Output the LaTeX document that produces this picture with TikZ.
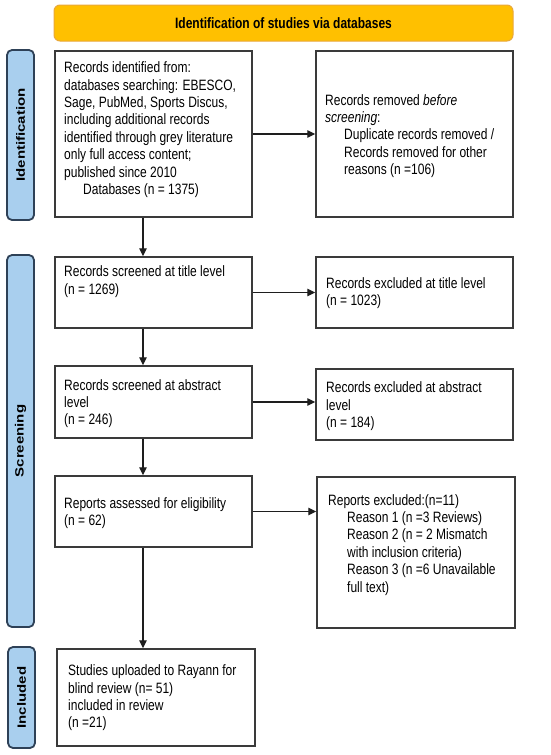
\documentclass[tikz,border=0pt]{standalone}
\usepackage{fontspec}
\setmainfont[FakeStretch=0.8]{Liberation Sans}
\newfontfamily\labelfont{Liberation Sans}
\usetikzlibrary{arrows.meta}
\definecolor{gold}{HTML}{FFC000}
\definecolor{goldedge}{HTML}{E9A83A}
\definecolor{sidefill}{HTML}{A9CFEE}
\definecolor{sideedge}{HTML}{2E4157}
\definecolor{boxedge}{HTML}{3A3A3A}
\definecolor{arrowcol}{HTML}{1E1E1E}
\newcommand{\txtlines}[1]{\begin{tabular}[t]{@{}l@{}}#1\end{tabular}}
\newcommand{\ind}{\hspace*{19pt}}
\tikzset{
  stagebox/.style={draw=boxedge, line width=1.4pt, fill=white, rectangle, inner sep=0pt, minimum width=197pt},
  txt/.style={anchor=base west, inner sep=0pt, font=\fontsize{15}{17.4}\selectfont},
  sidebar/.style={draw=sideedge, fill=sidefill, line width=1.8pt, rounded corners=5pt, minimum width=27pt, inner sep=0pt},
  sidelabel/.style={rotate=90, inner sep=0pt, font=\labelfont\bfseries\fontsize{15}{18}\selectfont},
  arr/.style={draw=arrowcol, line width=1.3pt, -{Triangle[length=8pt,width=7.5pt]}}
}
\begin{document}
\begin{tikzpicture}[x=1pt,y=-1pt]
\useasboundingbox[fill=white] (0,0) rectangle (550,755);

% header
\node[draw=goldedge, fill=gold, line width=1pt, rounded corners=6pt, minimum width=459pt, minimum height=36pt, inner sep=0pt,
      font=\bfseries\fontsize{15}{18}\selectfont] (head) at (283.5,23) {Identification of studies via databases};

% side bars
\node[sidebar, minimum height=170pt] (sb1) at (20.5,135) {};
\node[sidelabel] (sl1) at (sb1.center) {\scalebox{1}[0.8]{Identification}};
\node[sidebar, minimum height=372pt] (sb2) at (20.5,441) {};
\node[sidelabel] (sl2) at (sb2.center) {\scalebox{1}[0.8]{Screening}};
\node[sidebar, minimum height=101pt] (sb3) at (21.5,697.5) {};
\node[sidelabel] (sl3) at (sb3.center) {\scalebox{1}[0.8]{Included}};

% boxes
\node[stagebox, minimum height=166pt] (b1) at (153.5,134) {};
\node[stagebox, minimum height=166pt] (r1) at (414.5,134) {};
\node[stagebox, minimum height=71pt] (b2) at (153.5,292.5) {};
\node[stagebox, minimum height=71pt] (r2) at (414.5,292.5) {};
\node[stagebox, minimum height=72pt] (b3) at (153.5,402) {};
\node[stagebox, minimum height=71pt] (r3) at (414.5,404.5) {};
\node[stagebox, minimum height=71pt] (b4) at (153.5,511.5) {};
\node[stagebox, minimum height=151pt, minimum width=198pt] (r4) at (416,552.5) {};
\node[stagebox, minimum height=97pt, minimum width=198pt] (b5) at (156,697.5) {};

% texts
\node[txt] (t1) at (64,72.7) {\txtlines{Records identified from:\\
databases searching: EBESCO,\\
Sage, PubMed, Sports Discus,\\
including additional records\\
identified through grey literature\\
only full access content;\\
published since 2010\\
\ind Databases (n = 1375)}};
\node[txt] (tr1) at (325,105) {\txtlines{Records removed \textit{before}\\
\textit{screening}:\\
\ind Duplicate records removed /\\
\ind Records removed for other\\
\ind reasons (n =106)}};
\node[txt] (t2) at (64,276.7) {\txtlines{Records screened at title level\\(n = 1269)}};
\node[txt] (tr2) at (326,288.3) {\txtlines{Records excluded at title level\\(n = 1023)}};
\node[txt] (t3) at (64,390) {\txtlines{Records screened at abstract\\level\\(n = 246)}};
\node[txt] (tr3) at (326,392.7) {\txtlines{Records excluded at abstract\\level\\(n = 184)}};
\node[txt] (t4) at (64,508.3) {\txtlines{Reports assessed for eligibility\\(n = 62)}};
\node[txt] (tr4) at (328,505) {\txtlines{Reports excluded:(n=11)\\
\ind Reason 1 (n =3 Reviews)\\
\ind Reason 2 (n = 2 Mismatch\\
\ind with inclusion criteria)\\
\ind Reason 3 (n =6 Unavailable\\
\ind full text)}};
\node[txt] (t5) at (68,675.7) {\txtlines{Studies uploaded to Rayann for\\
blind review (n= 51)\\
included in review\\
(n =21)}};

% connectors
\coordinate (ax) at (143,0);
\draw[arr] (b1.east) -- (r1.west);
\draw[arr] (b2.east) -- (r2.west |- b2.east);
\draw[arr] (b3.east) -- (r3.west |- b3.east);
\draw[arr] (b4.east) -- (r4.west |- b4.east);
\draw[arr] (b1.south -| ax) -- (b2.north -| ax);
\draw[arr] (b2.south -| ax) -- (b3.north -| ax);
\draw[arr] (b3.south -| ax) -- (b4.north -| ax);
\draw[arr] (b4.south -| ax) -- (b5.north -| ax);
\end{tikzpicture}
\end{document}
